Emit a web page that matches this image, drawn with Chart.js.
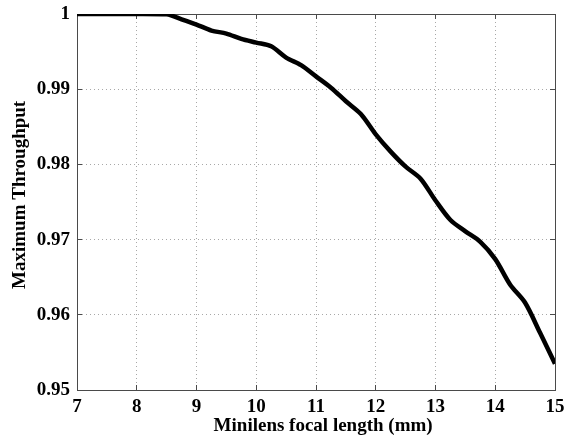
<!DOCTYPE html>
<html>
<head>
<meta charset="utf-8">
<script src="https://cdn.jsdelivr.net/npm/chart.js@4"></script>
<style>
html,body{margin:0;padding:0;background:#fff;}
#wrap{width:564px;height:435px;position:relative;}
</style>
</head>
<body>
<div id="wrap"><canvas id="c"></canvas></div>
<script>
// ---- data ----
const focalLength = [7, 7.5, 8, 8.5, 8.75, 9, 9.25, 9.5, 9.75, 10, 10.25, 10.5, 10.75, 11, 11.25, 11.5, 11.75, 12, 12.25, 12.5, 12.75, 13, 13.25, 13.5, 13.75, 14, 14.25, 14.5, 14.75, 15];
const throughput = [1.0, 1.0, 1.0, 0.99995, 0.9993, 0.9986, 0.9978, 0.9974, 0.9967, 0.9962, 0.9957, 0.9942, 0.9932, 0.9917, 0.9902, 0.9884, 0.9867, 0.9840, 0.9817, 0.9797, 0.9781, 0.9752, 0.9726, 0.9711, 0.9697, 0.9674, 0.9640, 0.9616, 0.9576, 0.9535];
const xTicks = [7, 8, 9, 10, 11, 12, 13, 14, 15];
const xTickLabels = ['7', '8', '9', '10', '11', '12', '13', '14', '15'];
const yTicks = [0.95, 0.96, 0.97, 0.98, 0.99, 1];
const yTickLabels = ['0.95', '0.96', '0.97', '0.98', '0.99', '1'];
const xTitle = 'Minilens focal length (mm)';
const yTitle = 'Maximum Throughput';

const FONT = {family: '"Liberation Serif", "Times New Roman", serif', size: 19, weight: 'bold'};
const AXIS = '#4a4a4a';
const GRID = '#a8a8a8';

function setTicks(vals) {
  return function(scale) { scale.ticks = vals.map(v => ({value: v})); };
}
function labelFrom(vals, labels) {
  return function(value) {
    const i = vals.findIndex(v => Math.abs(v - value) < 1e-9);
    return i >= 0 ? labels[i] : '';
  };
}
function fit(w, h) {
  return function(s) {
    if (w !== null) s.width = w;
    if (h !== null) s.height = h;
    s.paddingTop = 0; s.paddingBottom = 0; s.paddingLeft = 0; s.paddingRight = 0;
  };
}

const points = focalLength.map((x, i) => ({x: x, y: throughput[i]}));

new Chart(document.getElementById('c'), {
  type: 'line',
  data: {
    datasets: [{
      data: points,
      borderColor: '#000',
      borderWidth: 4.5,
      pointRadius: 0,
      tension: 0.3,
      fill: false
    }]
  },
  options: {
    responsive: true,
    maintainAspectRatio: false,
    animation: false,
    devicePixelRatio: 1,
    layout: {padding: {left: 0, right: 9, top: 14, bottom: 0}},
    plugins: {legend: {display: false}, tooltip: {enabled: false}},
    scales: {
      x: {
        type: 'linear', position: 'bottom', min: 7, max: 15,
        afterBuildTicks: setTicks(xTicks),
        afterFit: fit(null, 45),
        border: {display: true, color: AXIS, width: 1, dash: [1, 3]},
        grid: {color: GRID, lineWidth: 1, drawTicks: true, tickLength: -5, tickColor: AXIS, tickBorderDash: []},
        ticks: {color: '#000', font: FONT, padding: 11, maxRotation: 0, callback: labelFrom(xTicks, xTickLabels)},
        title: {display: true, text: '   ' + xTitle, color: '#000', font: Object.assign({}, FONT, {lineHeight: 0.9}), padding: {top: 0, bottom: 0}}
      },
      y: {
        type: 'linear', position: 'left', min: 0.95, max: 1,
        afterBuildTicks: setTicks(yTicks),
        afterFit: fit(77, null),
        border: {display: true, color: AXIS, width: 1, dash: [1, 3]},
        grid: {color: GRID, lineWidth: 1, drawTicks: true, tickLength: -5, tickColor: AXIS, tickBorderDash: []},
        ticks: {color: '#000', font: FONT, padding: 12, callback: labelFrom(yTicks, yTickLabels)},
        title: {display: true, text: '   ' + yTitle, color: '#000', font: Object.assign({}, FONT, {lineHeight: 1.2}), padding: {top: 9, bottom: 0}}
      },
      x2: {
        type: 'linear', position: 'top', min: 7, max: 15,
        afterBuildTicks: setTicks(xTicks),
        afterFit: fit(null, 0),
        border: {display: true, color: AXIS, width: 1},
        grid: {drawOnChartArea: false, drawTicks: true, tickLength: -5, tickColor: AXIS},
        ticks: {display: false}
      },
      y2: {
        type: 'linear', position: 'right', min: 0.95, max: 1,
        afterBuildTicks: setTicks(yTicks),
        afterFit: fit(0, null),
        border: {display: true, color: AXIS, width: 1},
        grid: {drawOnChartArea: false, drawTicks: true, tickLength: -5, tickColor: AXIS},
        ticks: {display: false}
      }
    }
  }
});
</script>
</body>
</html>
